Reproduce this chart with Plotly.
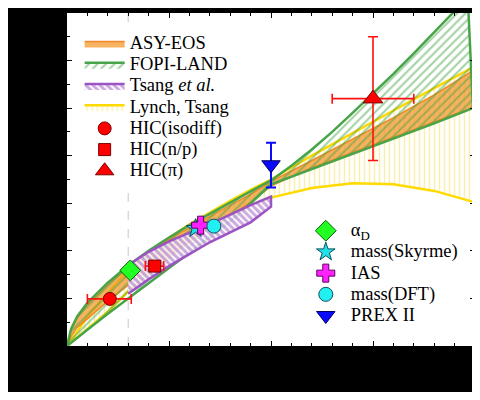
import plotly.graph_objects as go

# ---------------- data ----------------
# FOPI-LAND band (upper and lower edges)
fopi_up_rho = [0.0, 0.02, 0.05, 0.1, 0.2, 0.3, 0.4, 0.5, 0.6, 0.7, 0.8, 0.9, 1.0,
               1.1, 1.2, 1.3, 1.4, 1.5, 1.6, 1.7, 1.8, 1.9, 1.965]
fopi_up = [0.0, 3.6, 6.2, 9.1, 13.3, 16.9, 20.0, 22.8, 25.4, 27.8, 30.2, 32.5, 34.8,
           37.9, 41.3, 45.0, 49.0, 53.0, 57.2, 61.5, 66.0, 70.4, 73.0]
fopi_lo_rho = [0.0, 0.05, 0.1, 0.2, 0.3, 0.4, 0.5, 0.6, 0.7, 0.8, 0.9, 1.0,
               1.2, 1.4, 1.6, 1.8, 1.99]
fopi_lo = [0.0, 1.7, 3.4, 6.8, 10.1, 13.3, 16.4, 19.6, 22.8, 26.2, 30.0, 34.0,
           37.2, 40.4, 43.6, 46.8, 50.0]

# ASY-EOS band
asy_rho = [0.0, 0.02, 0.05, 0.1, 0.2, 0.3, 0.4, 0.5, 0.6, 0.7, 0.8, 0.9, 1.0,
           1.2, 1.4, 1.6, 1.8, 2.0]
asy_up = [0.0, 3.4, 5.9, 8.7, 12.9, 16.5, 19.6, 22.4, 24.9, 27.3, 29.6, 31.9, 34.6,
          39.0, 43.5, 48.0, 52.8, 58.2]
asy_lo = [0.0, 2.0, 3.9, 5.7, 9.4, 12.8, 16.0, 19.0, 21.9, 24.7, 27.4, 30.2, 33.6,
          37.5, 40.7, 43.9, 47.1, 50.3]

# Lynch, Tsang band
lt_rho = [0.0, 0.05, 0.1, 0.2, 0.3, 0.4, 0.5, 0.6, 0.7, 0.8, 0.9, 1.0,
          1.2, 1.4, 1.6, 1.8, 2.0]
lt_up = [0.0, 3.0, 6.3, 11.2, 16.0, 19.6, 22.7, 25.6, 28.1, 30.5, 32.8, 35.0,
         40.0, 44.8, 49.5, 54.2, 58.8]
lt_lo = [0.0, 1.9, 3.6, 7.2, 11.5, 15.2, 18.6, 22.0, 25.2, 27.5, 29.6, 31.2,
         33.2, 34.2, 34.0, 32.6, 30.2]

# Tsang et al. band
ts_rho = [0.3, 0.4, 0.5, 0.6, 0.7, 0.8, 0.9, 1.0]
ts_up = [17.0, 19.8, 22.0, 23.8, 25.6, 27.6, 29.6, 31.4]
ts_lo = [11.0, 14.0, 16.8, 19.3, 21.8, 23.9, 26.0, 29.3]

# data points
iso_rho, iso_S = [0.21], [9.9]
iso_xm, iso_xp = [0.11], [0.105]
np_rho, np_S = [0.43], [16.8]
np_xm, np_xp = [0.046], [0.044]
pi_rho, pi_S = [1.5], [52.0]
pi_xerr, pi_ym, pi_yp = [0.2], [13.0], [13.0]
ad_rho, ad_S = [0.31], [15.9]
sky_rho, sky_S = [0.63], [24.7]
ias_rho, ias_S = [0.655], [25.4]
dft_rho, dft_S = [0.72], [25.2]
prex_rho, prex_S = [1.0], [38.1]
prex_ym, prex_yp = [4.8], [4.6]

SERIF = "Liberation Serif, Times New Roman, Times, serif"


def band(xu, yu, xl, yl):
    return list(xu) + list(xl)[::-1], list(yu) + list(yl)[::-1]


def lbl(t):
    return ("<span style='font-family:Liberation Serif, Times New Roman, serif;"
            "font-size:18.5px'>" + t + "</span>")


fig = go.Figure()

# Lynch, Tsang (drawn first, underneath)
bx, by = band(lt_rho, lt_up, lt_rho, lt_lo)
fig.add_trace(go.Scatter(x=bx, y=by, mode="lines", fill="toself", name=lbl("Lynch, Tsang"),
                         line=dict(color="#FFDA00", width=2.5),
                         fillcolor="rgba(0,0,0,0)",
                         fillpattern=dict(shape="|", fgcolor="#F9E06A", bgcolor="rgba(0,0,0,0)",
                                          size=5, solidity=0.32),
                         legendrank=4))

# ASY-EOS
bx, by = band(asy_rho, asy_up, asy_rho, asy_lo)
fig.add_trace(go.Scatter(x=bx, y=by, mode="lines", fill="toself", name=lbl("ASY-EOS"),
                         line=dict(color="rgba(240,125,20,0.85)", width=1.5),
                         fillcolor="rgba(243,146,32,0.7)",
                         legendrank=1))

# FOPI-LAND
bx, by = band(fopi_up_rho, fopi_up, fopi_lo_rho, fopi_lo)
fig.add_trace(go.Scatter(x=bx, y=by, mode="lines", fill="toself", name=lbl("FOPI-LAND"),
                         line=dict(color="#48A448", width=2.5),
                         fillcolor="rgba(0,0,0,0)",
                         fillpattern=dict(shape="/", fgcolor="#48A448", bgcolor="rgba(0,0,0,0)",
                                          size=6, solidity=0.35),
                         legendrank=2))

# Tsang et al.
bx, by = band(ts_rho, ts_up, ts_rho, ts_lo)
fig.add_trace(go.Scatter(x=bx, y=by, mode="lines", fill="toself", name=lbl("Tsang <i>et al.</i>"),
                         line=dict(color="#9A55C2", width=2.5),
                         fillcolor="rgba(0,0,0,0)",
                         fillpattern=dict(shape="\\", fgcolor="#9A55C2",
                                          bgcolor="rgba(255,255,255,0.85)",
                                          size=5, solidity=0.6),
                         legendrank=3))

RED = "#FF1010"
fig.add_trace(go.Scatter(x=iso_rho, y=iso_S, mode="markers", name=lbl("HIC(isodiff)"),
                         marker=dict(symbol="circle", size=13, color="#FF0000",
                                     line=dict(color="#7A0000", width=1)),
                         error_x=dict(type="data", symmetric=False, array=iso_xp, arrayminus=iso_xm,
                                      color=RED, thickness=1.6, width=5),
                         legendrank=5))
fig.add_trace(go.Scatter(x=np_rho, y=np_S, mode="markers", name=lbl("HIC(n/p)"),
                         marker=dict(symbol="square", size=12, color="#FF0000",
                                     line=dict(color="#7A0000", width=1)),
                         error_x=dict(type="data", symmetric=False, array=np_xp, arrayminus=np_xm,
                                      color=RED, thickness=1.6, width=5),
                         legendrank=6))
fig.add_trace(go.Scatter(x=pi_rho, y=pi_S, mode="markers", name=lbl("HIC(π)"),
                         marker=dict(symbol="triangle-up", size=17, color="#FF0000",
                                     line=dict(color="#7A0000", width=1)),
                         error_x=dict(type="data", array=pi_xerr, color=RED, thickness=1.6, width=5),
                         error_y=dict(type="data", symmetric=False, array=pi_yp, arrayminus=pi_ym,
                                      color=RED, thickness=1.6, width=5),
                         legendrank=7))

# second legend group
fig.add_trace(go.Scatter(x=ad_rho, y=ad_S, mode="markers", name=lbl("α<sub>D</sub>"),
                         legend="legend2",
                         marker=dict(symbol="diamond", size=16, color="#22FF22",
                                     line=dict(color="#0A5A0A", width=1)), legendrank=1))
fig.add_trace(go.Scatter(x=sky_rho, y=sky_S, mode="markers", name=lbl("mass(Skyrme)"),
                         legend="legend2",
                         marker=dict(symbol="star", size=14, color="#22E0E8",
                                     line=dict(color="#0A5060", width=1)), legendrank=2))
fig.add_trace(go.Scatter(x=ias_rho, y=ias_S, mode="markers", name=lbl("IAS"),
                         legend="legend2",
                         marker=dict(symbol="cross", size=15, color="#FF22FF",
                                     line=dict(color="#600060", width=1)), legendrank=3))
fig.add_trace(go.Scatter(x=dft_rho, y=dft_S, mode="markers", name=lbl("mass(DFT)"),
                         legend="legend2",
                         marker=dict(symbol="circle", size=14, color="#22F0F0",
                                     line=dict(color="#0A5060", width=1)), legendrank=4))
fig.add_trace(go.Scatter(x=prex_rho, y=prex_S, mode="markers", name=lbl("PREX II"),
                         legend="legend2",
                         marker=dict(symbol="triangle-down", size=16, color="#0A0AFF",
                                     line=dict(color="#000060", width=1)),
                         error_y=dict(type="data", symmetric=False, array=prex_yp, arrayminus=prex_ym,
                                      color="#0A0AFF", thickness=2, width=5),
                         legendrank=5))

fig.add_shape(type="line", x0=0.3, x1=0.3, y0=0, y1=70, xref="x", yref="y",
              line=dict(color="#C8C8C8", width=1, dash="dash"), layer="below")

axis_common = dict(showgrid=False, zeroline=False, ticks="inside", ticklen=5, tickwidth=1,
                   tickcolor="black", showline=True, linecolor="black", linewidth=1,
                   mirror="allticks", automargin=False,
                   tickfont=dict(family=SERIF, size=13, color="black"))

# the page body adds an 8px offset; keep the figure inside the 480x400 window
fig.update_layout(
    width=472, height=384,
    margin=dict(l=59, r=5, t=5, b=46, autoexpand=False),
    paper_bgcolor="black", plot_bgcolor="white",
    font=dict(family=SERIF, color="black"),
    xaxis=dict(range=[0, 2], dtick=0.5, tick0=0,
               minor=dict(ticks="inside", ticklen=3, dtick=0.1, tickcolor="black"),
               **axis_common),
    yaxis=dict(range=[0, 70], dtick=10, tick0=0,
               minor=dict(ticks="inside", ticklen=3, dtick=5, tickcolor="black"),
               **axis_common),
    legend=dict(x=0.031, y=0.955, xanchor="left", yanchor="top", bgcolor="white",
                font=dict(family=SERIF, size=14, color="black"), tracegroupgap=0,
                itemwidth=40, traceorder="normal"),
    legend2=dict(x=0.573, y=0.393, xanchor="left", yanchor="top", bgcolor="rgba(255,255,255,0)",
                 font=dict(family=SERIF, size=14, color="black"), tracegroupgap=0,
                 itemwidth=40, traceorder="normal"),
    showlegend=True,
)

fig.write_html("out.html", config={"displayModeBar": False})
